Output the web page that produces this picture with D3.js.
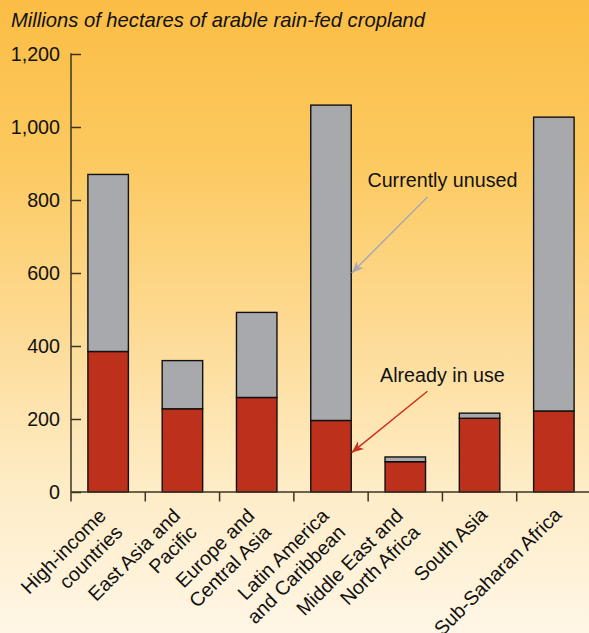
<!DOCTYPE html>
<html>
<head>
<meta charset="utf-8">
<script src="https://cdn.jsdelivr.net/npm/d3@7"></script>
<style>
  html, body { margin: 0; padding: 0; background: #fff; }
  svg { display: block; }
  text { font-family: "Liberation Sans", Arial, Helvetica, sans-serif; fill: #111; }
</style>
</head>
<body>
<svg id="chart" width="589" height="633"></svg>
<script>
// ---- data ----
const categories = [
  "High-income countries",
  "East Asia and Pacific",
  "Europe and Central Asia",
  "Latin America and Caribbean",
  "Middle East and North Africa",
  "South Asia",
  "Sub-Saharan Africa"
];
const categoryLabelLines = [
  ["High-income", "countries"],
  ["East Asia and", "Pacific"],
  ["Europe and", "Central Asia"],
  ["Latin America", "and Caribbean"],
  ["Middle East and", "North Africa"],
  ["South Asia"],
  ["Sub-Saharan Africa"]
];
const alreadyInUse   = [385, 228, 259, 196, 83, 202, 222];
const currentlyUnused = [485, 132, 233, 864, 13, 14, 805];
const yTicks = [0, 200, 400, 600, 800, 1000, 1200];
const seriesNames = ["Already in use", "Currently unused"];
const titleText = "Millions of hectares of arable rain-fed cropland";

// ---- layout ----
const W = 589, H = 633;
const FS = "19.7px";
const svg = d3.select("#chart");

const defs = svg.append("defs");
const grad = defs.append("linearGradient").attr("id", "bg")
  .attr("x1", 0).attr("y1", 0).attr("x2", 0).attr("y2", 1);
[[0, "#fbbd45"], [0.25, "#fcc95f"], [0.5, "#fdd990"], [0.75, "#feebc3"], [1, "#fff6e6"]]
  .forEach(([o, c]) => grad.append("stop").attr("offset", o).attr("stop-color", c));
svg.append("rect").attr("width", W).attr("height", H).attr("fill", "url(#bg)");

const x = d3.scaleBand().domain(categories).range([71, 591])
  .paddingInner(0.455).paddingOuter(0.2275);
const y = d3.scaleLinear().domain([0, 1200]).range([492, 54]);

// stacked data
const rows = categories.map((c, i) => ({ cat: c, used: alreadyInUse[i], unused: currentlyUnused[i] }));
const stack = d3.stack().keys(["used", "unused"])(rows);
const colors = { used: "#bd301b", unused: "#a8a9ad" };

// bars
const g = svg.append("g");
stack.forEach(layer => {
  g.selectAll(null).data(layer).enter().append("rect")
    .attr("x", d => x(d.data.cat))
    .attr("width", x.bandwidth())
    .attr("y", d => y(d[1]))
    .attr("height", d => y(d[0]) - y(d[1]))
    .attr("fill", colors[layer.key])
    .attr("stroke", "#111")
    .attr("stroke-width", 1.4);
});

// y axis
const axisColor = "#3b3426";
const yAxis = svg.append("g").attr("transform", "translate(71,0)")
  .call(d3.axisLeft(y).tickValues(yTicks).tickSize(-10).tickPadding(11).tickFormat(d3.format(",")));
yAxis.select(".domain").remove();
yAxis.selectAll(".tick line").attr("stroke", axisColor).attr("stroke-width", 1.5);
yAxis.selectAll(".tick text")
  .style("font-size", FS).attr("fill", "#111")
  .attr("font-family", "Liberation Sans, Arial, sans-serif");
svg.append("line").attr("x1", 71).attr("x2", 71).attr("y1", y(1200) - 0.75).attr("y2", y(0) + 9.5)
  .attr("stroke", axisColor).attr("stroke-width", 1.5);

// x axis
svg.append("line").attr("x1", 71).attr("x2", W).attr("y1", y(0)).attr("y2", y(0))
  .attr("stroke", axisColor).attr("stroke-width", 1.5);
const gap = (x.step() - x.bandwidth()) / 2;
const boundaries = categories.map(c => x(c) - gap).concat([x(categories[categories.length - 1]) + x.bandwidth() + gap]);
svg.selectAll(null).data(boundaries.slice(1)).enter().append("line")
  .attr("x1", d => d).attr("x2", d => d).attr("y1", y(0)).attr("y2", y(0) + 9.5)
  .attr("stroke", axisColor).attr("stroke-width", 1.5);

// x labels
const lbl = svg.selectAll(null).data(categories).enter().append("text")
  .attr("transform", (c, i) => {
    const lines = categoryLabelLines[i].length;
    const cx = x(c) + x.bandwidth() / 2 + (lines === 1 ? 9 : -1);
    return `translate(${cx},${y(0) + (lines === 1 ? 24 : 25)}) rotate(-45)`;
  })
  .attr("text-anchor", "end")
  .style("font-size", FS);
lbl.each(function (c, i) {
  const t = d3.select(this);
  categoryLabelLines[i].forEach((line, j) => {
    t.append("tspan").attr("x", 0).attr("dy", j === 0 ? 0 : 23.5).text(line);
  });
});

// title
svg.append("text").attr("x", 11).attr("y", 27)
  .style("font-size", "20.2px").style("font-style", "italic")
  .text(titleText);

// annotations
function marker(id, color) {
  defs.append("marker").attr("id", id)
    .attr("viewBox", "-12 -6 14 12").attr("refX", 0).attr("refY", 0)
    .attr("markerWidth", 14).attr("markerHeight", 12)
    .attr("markerUnits", "userSpaceOnUse").attr("orient", "auto")
    .append("path").attr("d", "M0,0 L-12,-5 L-8.5,0 L-12,5 Z").attr("fill", color);
}
marker("arrGrey", "#a7aab3");
marker("arrRed", "#c8321f");

const targetCat = categories[3];
const tipX = x(targetCat) + x.bandwidth() + 0.5;
const labelX = x(categories[5]) - gap;
const annotations = [
  { text: seriesNames[1], textY: 835, startY: 808, tipY: 600, color: "#a7aab3", marker: "arrGrey" },
  { text: seriesNames[0], textY: 302, startY: 276, tipY: 108, color: "#c8321f", marker: "arrRed" }
];
annotations.forEach(a => {
  svg.append("text").attr("x", labelX).attr("y", y(a.textY))
    .attr("text-anchor", "middle").style("font-size", FS).text(a.text);
  svg.append("line")
    .attr("x1", labelX - 15).attr("y1", y(a.startY))
    .attr("x2", tipX).attr("y2", y(a.tipY))
    .attr("stroke", a.color).attr("stroke-width", 1.5)
    .attr("marker-end", `url(#${a.marker})`);
});
</script>
</body>
</html>
